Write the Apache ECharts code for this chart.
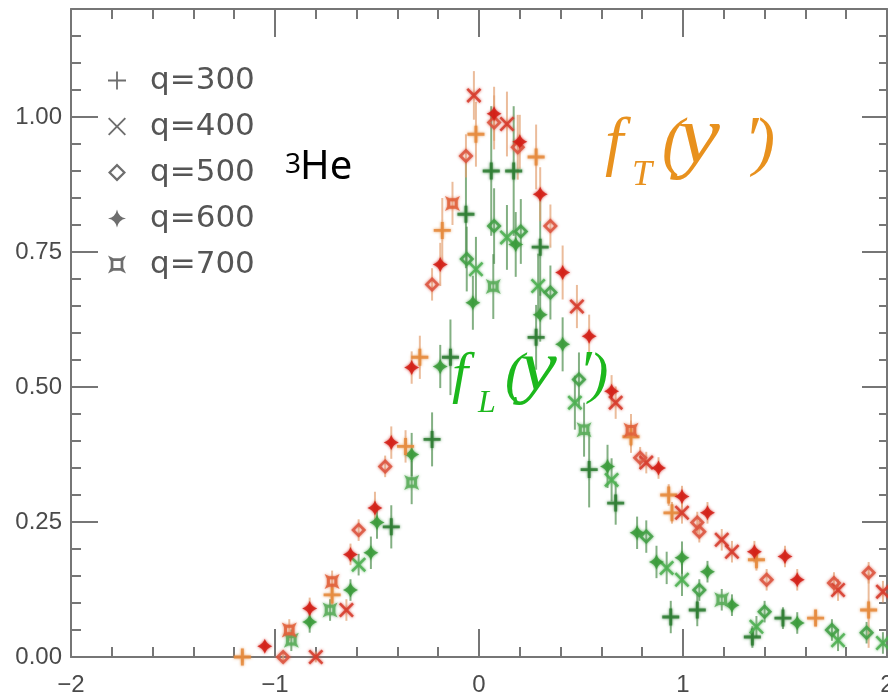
<!DOCTYPE html>
<html>
<head>
<meta charset="utf-8">
<script src="https://cdn.jsdelivr.net/npm/echarts@6/dist/echarts.min.js"></script>
<style>html,body{margin:0;padding:0;background:#fff}#c{width:888px;height:693px}</style>
</head>
<body>
<div id="c"></div>
<script>
// ---- data: [y', f(y'), error] ----
const qLabels = ['q=300', 'q=400', 'q=500', 'q=600', 'q=700'];
const xTicks = [-2, -1, 0, 1, 2];
const yTicks = [0, 0.25, 0.5, 0.75, 1.0];

// transverse f_T (red / orange)
const T300 = [[-1.16,0.00,0.01],[-0.72,0.115,0.02],[-0.36,0.39,0.03],[-0.29,0.555,0.04],[-0.18,0.79,0.06],[-0.015,0.968,0.06],[0.28,0.926,0.06],[0.745,0.408,0.03],[0.93,0.30,0.02],[0.946,0.267,0.02],[1.36,0.18,0.02],[1.65,0.072,0.015],[1.91,0.087,0.07]];
const T400 = [[-0.80,0.00,0.01],[-0.65,0.087,0.02],[-0.025,1.04,0.045],[0.137,0.987,0.06],[0.48,0.649,0.04],[0.67,0.471,0.03],[0.82,0.36,0.02],[0.995,0.267,0.02],[1.19,0.217,0.02],[1.24,0.195,0.02],[1.76,0.124,0.02],[1.98,0.121,0.02]];
const T500 = [[-0.96,0.00,0.01],[-0.59,0.235,0.02],[-0.46,0.353,0.02],[-0.23,0.69,0.03],[-0.064,0.928,0.04],[0.074,0.99,0.05],[0.19,0.944,0.06],[0.35,0.798,0.04],[0.79,0.369,0.02],[1.07,0.249,0.02],[1.08,0.232,0.02],[1.41,0.143,0.02],[1.74,0.137,0.02],[1.91,0.156,0.02]];
const T600 = [[-1.05,0.02,0.01],[-0.83,0.09,0.02],[-0.63,0.19,0.02],[-0.51,0.276,0.03],[-0.43,0.397,0.03],[-0.33,0.536,0.03],[-0.19,0.727,0.04],[0.074,1.006,0.05],[0.20,0.954,0.05],[0.30,0.857,0.05],[0.41,0.712,0.05],[0.54,0.594,0.04],[0.65,0.492,0.03],[0.88,0.35,0.02],[0.995,0.297,0.02],[1.12,0.267,0.02],[1.35,0.195,0.02],[1.50,0.186,0.02],[1.56,0.143,0.02]];
const T700 = [[-0.93,0.05,0.02],[-0.72,0.14,0.02],[-0.13,0.84,0.04],[0.745,0.42,0.03]];

// longitudinal f_L (green)
const L300 = [[-0.43,0.241,0.04],[-0.23,0.403,0.05],[-0.14,0.555,0.07],[-0.064,0.82,0.1],[0.06,0.90,0.12],[0.17,0.90,0.12],[0.30,0.759,0.09],[0.28,0.592,0.06],[0.54,0.347,0.07],[0.67,0.285,0.04],[0.94,0.074,0.03],[1.07,0.087,0.03],[1.34,0.037,0.02],[1.49,0.072,0.02]];
const L400 = [[-0.59,0.171,0.02],[-0.015,0.718,0.06],[0.137,0.777,0.06],[0.29,0.687,0.06],[0.47,0.471,0.05],[0.65,0.328,0.04],[0.92,0.165,0.03],[0.995,0.143,0.03],[1.36,0.056,0.02],[1.76,0.031,0.02],[1.98,0.026,0.02]];
const L500 = [[-0.06,0.737,0.06],[0.074,0.798,0.07],[0.205,0.788,0.06],[0.35,0.675,0.05],[0.49,0.514,0.05],[0.82,0.223,0.03],[1.08,0.124,0.02],[1.40,0.084,0.02],[1.73,0.05,0.02],[1.90,0.045,0.02]];
const L600 = [[-0.83,0.065,0.02],[-0.63,0.124,0.02],[-0.53,0.193,0.03],[-0.50,0.249,0.03],[-0.33,0.375,0.04],[-0.19,0.538,0.04],[-0.03,0.656,0.05],[0.18,0.764,0.06],[0.30,0.634,0.05],[0.41,0.579,0.05],[0.63,0.353,0.04],[0.775,0.23,0.03],[0.87,0.176,0.03],[0.995,0.184,0.03],[1.12,0.158,0.02],[1.24,0.096,0.02],[1.56,0.063,0.02]];
const L700 = [[-0.92,0.031,0.02],[-0.73,0.087,0.02],[-0.33,0.323,0.04],[0.07,0.686,0.06],[0.515,0.421,0.05],[1.19,0.106,0.02]];

// ---- styling ----
const SYM = [
  'path://M9,0H11V9H20V11H11V20H9V11H0V9H9Z',
  'path://M1.5,0L10,8.5L18.5,0L20,1.5L11.5,10L20,18.5L18.5,20L10,11.5L1.5,20L0,18.5L8.5,10L0,1.5Z',
  'path://M10,0L20,10L10,20L0,10Z M10,3.5L3.5,10L10,16.5L16.5,10Z',
  'path://M10,0Q11.6,8.4 20,10Q11.6,11.6 10,20Q8.4,11.6 0,10Q8.4,8.4 10,0Z',
  'path://M0,0L6,3H14L20,0L17,6V14L20,20L14,17H6L0,20L3,14V6Z M6,6V14H14V6Z'
];
const DATA_SYM = [
  'path://M8.3,0H11.7V8.3H20V11.7H11.7V20H8.3V11.7H0V8.3H8.3Z',
  'path://M2.4,0L10,7.6L17.6,0L20,2.4L12.4,10L20,17.6L17.6,20L10,12.4L2.4,20L0,17.6L7.6,10L0,2.4Z',
  'path://M10,0L20,10L10,20L0,10Z M10,5L5,10L10,15L15,10Z',
  'path://M10,0Q12.5,7.5 20,10Q12.5,12.5 10,20Q7.5,12.5 0,10Q7.5,7.5 10,0Z',
  'path://M0,0L6,3H14L20,0L17,6V14L20,20L14,17H6L0,20L3,14V6Z M7,7V13H13V7Z'
];
const T_SETS = [T300, T400, T500, T600, T700];
const L_SETS = [L300, L400, L500, L600, L700];
const T_COLORS = ['#e58a3c', '#d63a2a', '#dc5540', '#d21e16', '#e0603a'];
const L_COLORS = ['#2e7d32', '#4caf50', '#43a047', '#3b9b3b', '#5aad5a'];
const AX = '#767676';

function errRender(color) {
  return function (params, api) {
    const p1 = api.coord([api.value(0), api.value(1)]);
    const p2 = api.coord([api.value(0), api.value(2)]);
    return { type: 'line', shape: { x1: p1[0], y1: p1[1], x2: p2[0], y2: p2[1] },
      style: { stroke: color, lineWidth: 2, opacity: 0.7 } };
  };
}

const series = [];
function addSet(sets, colors, barColor, prefix) {
  sets.forEach((arr, i) => {
    series.push({ type: 'custom', name: prefix + 'err' + i, renderItem: errRender(barColor),
      data: arr.map(d => [d[0], d[1] - d[2], d[1] + d[2]]), encode: { x: 0, y: [1, 2] }, z: 2, clip: false, silent: true });
  });
  sets.forEach((arr, i) => {
    series.push({ type: 'scatter', name: qLabels[i], data: arr.map(d => [d[0], d[1]]),
      symbol: DATA_SYM[i], symbolSize: i === 0 ? 17 : 15, clip: false, z: 3,
      itemStyle: { color: colors[i], opacity: 0.85, shadowBlur: 3, shadowColor: colors[i] } });
  });
}
addSet(L_SETS, L_COLORS, '#4f8f4f', 'L');
addSet(T_SETS, T_COLORS, '#e2a070', 'T');

function serifText(str, x, base, size, color, extra) {
  return Object.assign({ type: 'text', x: x, y: base - 0.34 * size, z: 100,
    style: { text: str, font: 'italic ' + size + 'px "Liberation Serif"', fill: color, verticalAlign: 'middle', align: 'left' } }, extra || {});
}
function sansText(str, x, base, size, color) {
  return { type: 'text', x: x, y: base - 0.388 * size, z: 100,
    style: { text: str, font: size + 'px "Noto Sans"', fill: color, verticalAlign: 'middle', align: 'left' } };
}
const OR = '#e8911e', GR = '#1cb81c';

const graphics = [
  sansText('3', 285, 176, 28, '#000'),
  sansText('He', 300, 183, 40, '#000'),
  serifText('f', 605, 168, 66, OR),
  serifText('T', 632, 188, 36, OR),
  serifText('(', 662, 168, 66, OR),
  serifText('y', 678, 168, 82, OR, { scaleX: 1.15 }),
  serifText('\u2032', 744, 166, 66, OR),
  serifText(')', 753, 168, 66, OR),
  serifText('f', 452, 396, 58, GR),
  serifText('L', 478, 414, 32, GR),
  serifText('(', 505, 396, 58, GR),
  serifText('y', 520, 396, 72, GR, { scaleX: 1.15 }),
  serifText('\u2032', 579, 394, 58, GR),
  serifText(')', 589, 396, 58, GR)
];

const tickStyle = { color: AX, width: 2 };
const labelFont = { color: '#4a4a4a', fontSize: 24, fontFamily: 'Liberation Sans' };
const lineStyleOff = { onZero: false, lineStyle: tickStyle };

const option = {
  animation: false,
  backgroundColor: '#fff',
  grid: { left: 71, right: 1, top: 9, bottom: 36, containLabel: false, outerBoundsMode: 'none' },
  legend: {
    orient: 'vertical', left: 103, top: 60, itemWidth: 18, itemHeight: 18, itemGap: 15, padding: 5,
    selectedMode: false, symbolKeepAspect: true,
    itemStyle: { color: '#555', borderWidth: 0 },
    textStyle: { fontFamily: 'DejaVu Sans', fontSize: 31, color: '#555', lineHeight: 30, padding: [0, 0, 0, 19] },
    data: qLabels.map((n, i) => ({ name: n, icon: SYM[i] }))
  },
  xAxis: [
    { type: 'value', min: xTicks[0], max: xTicks[xTicks.length - 1], interval: 1, position: 'bottom',
      axisLine: lineStyleOff, axisTick: { inside: true, length: 28, lineStyle: tickStyle },
      minorTick: { show: true, splitNumber: 5, length: 10, lineStyle: tickStyle },
      splitLine: { show: false }, minorSplitLine: { show: false },
      axisLabel: Object.assign({ margin: 16, formatter: v => String(v).replace('-', '\u2212') }, labelFont) },
    { type: 'value', min: xTicks[0], max: xTicks[xTicks.length - 1], interval: 1, position: 'top',
      axisLine: lineStyleOff, axisTick: { inside: true, length: 28, lineStyle: tickStyle },
      minorTick: { show: true, splitNumber: 5, length: 10, lineStyle: tickStyle },
      splitLine: { show: false }, minorSplitLine: { show: false }, axisLabel: { show: false } }
  ],
  yAxis: [
    { type: 'value', min: 0, max: 1.2, interval: 0.25, position: 'left',
      axisLine: lineStyleOff, axisTick: { inside: true, length: 27, lineStyle: tickStyle },
      splitLine: { show: false },
      axisLabel: Object.assign({ margin: 9, formatter: v => (yTicks.some(t => Math.abs(t - v) < 1e-6) ? v.toFixed(2) : '') }, labelFont) },
    { type: 'value', min: 0, max: 1.2, interval: 0.05, position: 'left',
      axisLine: { show: false, onZero: false }, axisTick: { inside: true, length: 10, lineStyle: tickStyle },
      splitLine: { show: false }, axisLabel: { show: false } },
    { type: 'value', min: 0, max: 1.2, interval: 0.25, position: 'right',
      axisLine: lineStyleOff, axisTick: { inside: true, length: 25, lineStyle: tickStyle },
      splitLine: { show: false }, axisLabel: { show: false } },
    { type: 'value', min: 0, max: 1.2, interval: 0.05, position: 'right',
      axisLine: { show: false, onZero: false }, axisTick: { inside: true, length: 8, lineStyle: tickStyle },
      splitLine: { show: false }, axisLabel: { show: false } }
  ],
  series: series,
  graphic: graphics
};

const chart = echarts.init(document.getElementById('c'), null, { renderer: 'canvas' });
chart.setOption(option);
</script>
</body>
</html>
